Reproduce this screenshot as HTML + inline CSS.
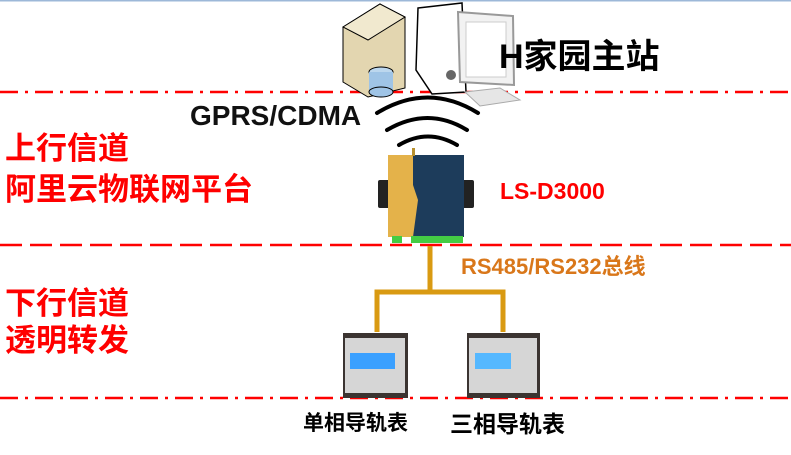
<!DOCTYPE html>
<html><head><meta charset="utf-8"><style>
body{margin:0;width:791px;height:455px;background:#fff;position:relative;overflow:hidden;font-family:"Liberation Sans","Noto Sans CJK SC",sans-serif}
.t{position:absolute;white-space:nowrap;font-weight:bold;line-height:1}
.red{color:#f00}
</style></head><body>
<svg width="791" height="455" style="position:absolute;left:0;top:0">
<line x1="0" y1="0.5" x2="791" y2="0.5" stroke="#9db8d8" stroke-width="2"/>
<line x1="0" y1="92" x2="791" y2="92" stroke="#f00" stroke-width="2.5" stroke-dasharray="18,7,3,7"/>
<line x1="0" y1="245" x2="791" y2="245" stroke="#f00" stroke-width="2.5" stroke-dasharray="22,8"/>
<line x1="0" y1="398" x2="791" y2="398" stroke="#f00" stroke-width="2.5" stroke-dasharray="18,7,3,7"/>
<polygon points="343,27 380,4 405,17 405,88 368,97 343,82" fill="#e3d6b0" stroke="#000"/>
<polygon points="343,27 380,4 405,17 368,40" fill="#f1e9cf" stroke="#000"/>
<ellipse cx="381" cy="72" rx="12" ry="5" fill="#bcd7ee" stroke="#000"/>
<rect x="369" y="72" width="24" height="20" fill="#9fc4e6"/>
<ellipse cx="381" cy="92" rx="12" ry="5" fill="#9fc4e6" stroke="#000"/>
<polygon points="418,8 462,3 466,92 432,94 416,70" fill="#fff" stroke="#000" stroke-width="1.5"/>
<circle cx="451" cy="75" r="5" fill="#666"/>
<polygon points="458,12 513,16 514,85 460,82" fill="#f2f2f2" stroke="#999" stroke-width="2"/>
<rect x="466" y="22" width="40" height="55" fill="#fff" stroke="#ccc"/>
<polygon points="465,92 500,88 520,100 480,106" fill="#e6e6e6" stroke="#aaa"/>
<g fill="none" stroke="#000" stroke-width="4" stroke-linecap="round">
<path d="M377,113 Q428,82 478,113"/>
<path d="M387,130 Q428,106 467,130"/>
<path d="M399,145 Q428,128 457,145"/>
</g>
<rect x="378" y="180" width="12" height="28" fill="#222" rx="2"/>
<rect x="462" y="180" width="12" height="28" fill="#222" rx="2"/>
<rect x="388" y="155" width="76" height="82" fill="#1d3c5b"/>
<path d="M388,155 H413 V185 L418,200 L413,237 H388 Z" fill="#e4b24a"/>
<rect x="412" y="148" width="3" height="8" fill="#b8902e"/>
<rect x="392" y="236" width="10" height="7" fill="#4c4"/>
<rect x="411" y="236" width="52" height="7" fill="#4c4"/>
<g fill="none" stroke="#d99a12" stroke-width="5">
<path d="M430,246 V292 M377,332 V292 H503 V332"/>
</g>
<rect x="343" y="333" width="65" height="65" fill="#3b3431"/>
<rect x="345" y="338" width="60" height="55" fill="#d6d6d6"/>
<rect x="350" y="353" width="45" height="16" fill="#3aa0ff"/>
<rect x="467" y="333" width="73" height="65" fill="#3b3431"/>
<rect x="469" y="338" width="68" height="55" fill="#d6d6d6"/>
<rect x="475" y="353" width="36" height="16" fill="#55b8ff"/>
</svg>
<div class="t" style="left:499px;top:40px;font-size:34px;color:#000">H家园主站</div>
<div class="t" style="left:190px;top:102px;font-size:28px;color:#111">GPRS/CDMA</div>
<div class="t red" style="left:5px;top:133px;font-size:31px">上行信道</div>
<div class="t red" style="left:5px;top:174px;font-size:31px">阿里云物联网平台</div>
<div class="t red" style="left:500px;top:180px;font-size:23px">LS-D3000</div>
<div class="t" style="left:461px;top:256px;font-size:22px;color:#d9771a">RS485/RS232总线</div>
<div class="t red" style="left:5px;top:288px;font-size:31px">下行信道</div>
<div class="t red" style="left:5px;top:325px;font-size:31px">透明转发</div>
<div class="t" style="left:303px;top:413px;font-size:21px;color:#000">单相导轨表</div>
<div class="t" style="left:450px;top:413px;font-size:23px;color:#000">三相导轨表</div>
</body></html>
